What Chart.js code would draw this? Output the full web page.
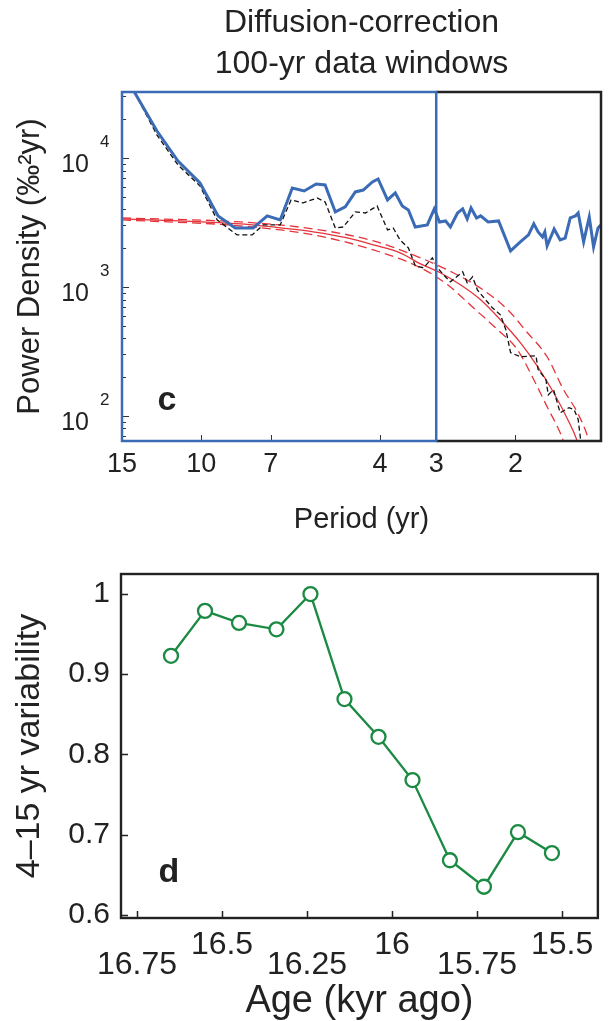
<!DOCTYPE html>
<html>
<head>
<meta charset="utf-8">
<title>Diffusion-correction, 100-yr data windows</title>
<script src="https://cdn.jsdelivr.net/npm/chart.js@4.4.1/dist/chart.umd.min.js"></script>
<style>
  body { margin: 0; background: #fff; }
  .panel { position: absolute; left: 0; }
  #panel-c { top: 0; }
  #panel-d { top: 545px; }
</style>
</head>
<body>
<canvas id="panel-c" class="panel" width="611" height="545"></canvas>
<canvas id="panel-d" class="panel" width="611" height="476"></canvas>
<script>
// panel c - spectra, period (yr) against power density
const correctedPeriod = [15.0, 14.03, 12.54, 11.26, 10.06, 9.17, 8.40, 7.66, 7.13, 6.67, 6.27, 5.90, 5.55, 5.30, 5.03, 4.78, 4.54, 4.36, 4.16, 4.04, 3.85, 3.70, 3.57, 3.46, 3.34, 3.14, 3.03, 2.95, 2.86, 2.79, 2.69, 2.62, 2.56, 2.51, 2.44, 2.39, 2.30, 2.18, 2.05, 1.95, 1.87, 1.82, 1.78, 1.74, 1.72, 1.70, 1.64, 1.59, 1.55, 1.51, 1.47, 1.45, 1.41, 1.37, 1.34, 1.31, 1.29];
const correctedPower = [47100, 31800, 16200, 9480, 6410, 3560, 2870, 2870, 3560, 3310, 5860, 5555, 6290, 6180, 3820, 4180, 5460, 5650, 6520, 6880, 4730, 5360, 4250, 3960, 2920, 3030, 4030, 3195, 3255, 2920, 3750, 4030, 3370, 4100, 3430, 3560, 3195, 3255, 1905, 2240, 2535, 3085, 2675, 2446, 2675, 2085, 2820, 2315, 2395, 3430, 3560, 3750, 2240, 3495, 2047, 2870, 3030];

const rawPeriod = [15.0, 14.03, 12.54, 11.26, 10.06, 9.21, 8.32, 7.70, 7.28, 6.67, 6.31, 5.93, 5.52, 5.30, 5.03, 4.83, 4.54, 4.31, 4.06, 3.85, 3.74, 3.61, 3.46, 3.34, 3.20, 3.06, 2.98, 2.89, 2.79, 2.62, 2.56, 2.49, 2.43, 2.33, 2.25, 2.16, 2.10, 2.05, 1.95, 1.80, 1.78, 1.71, 1.69, 1.645, 1.59, 1.52, 1.48, 1.45, 1.43, 1.42];
const rawPower = [47100, 31800, 15070, 8830, 6070, 3310, 2535, 2535, 3030, 3030, 4730, 4490, 4900, 4565, 2870, 2920, 3820, 3750, 4250, 2770, 2870, 2315, 2010, 1460, 1408, 1683, 1408, 1243, 1097, 1311, 1078, 1199, 951, 796, 690, 609, 466, 310, 288, 293, 229, 191, 146, 160, 106, 116, 112, 94, 63, 38];

const fitPeriod = [15, 11.14, 8.19, 6.34, 5.63, 4.73, 4.14, 3.61, 3.25, 2.94, 2.65, 2.39, 2.16, 1.95, 1.785, 1.645, 1.53, 1.455, 1.40];
const fitPower = [3370, 3255, 3085, 2820, 2675, 2400, 2120, 1840, 1510, 1290, 1040, 796, 557, 370, 241, 152, 94, 63, 38];
const fitHighPeriod = [15, 8.19, 5.63, 4.14, 3.25, 2.75, 2.36, 2.08, 1.88, 1.70, 1.563, 1.455, 1.37, 1.326];
const fitHighPower = [3430, 3195, 2820, 2280, 1680, 1290, 950, 666, 442, 288, 160, 106, 63, 38];
const fitLowPeriod = [15, 8.19, 5.63, 4.14, 3.25, 2.83, 2.48, 2.19, 1.98, 1.82, 1.70, 1.59, 1.563, 1.52];
const fitLowPower = [3310, 2980, 2535, 1940, 1410, 1040, 690, 466, 327, 191, 118, 74, 63, 38];

const periodTicks = [15, 10, 7, 4, 3, 2];
const powerTicks = [100, 1000, 10000];
const windowEdge = 3; // right side of the blue box, yr

// panel d - 4-15 yr variability per 100-yr window
const windowAge = [16.65, 16.55, 16.45, 16.34, 16.24, 16.14, 16.04, 15.94, 15.83, 15.73, 15.63, 15.53];
const variability = [0.923, 0.979, 0.964, 0.956, 1.000, 0.869, 0.822, 0.768, 0.668, 0.635, 0.703, 0.677];
const ageTicks = [16.75, 16.5, 16.25, 16, 15.75, 15.5];
const ageTicksLow = [16.75, 16.25, 15.75];
const variabilityTicks = [0.6, 0.7, 0.8, 0.9, 1];

const BLUE = '#3b6bb5';
const RED = '#e4343b';
const GREEN = '#1b8a43';
const INK = '#222';
const FONT = "'Liberation Sans', Arial, Helvetica, sans-serif";

Chart.defaults.font.family = FONT;
Chart.defaults.color = INK;

function toPoints(xs, ys) {
    return xs.map(function (x, i) { return { x: x, y: ys[i] }; });
}

// frame, inward ticks, 10^n labels and the panel letter
const spectrumDecor = {
    id: 'spectrumDecor',
    afterDatasetsDraw(chart) {
        const ctx = chart.ctx;
        const a = chart.chartArea;
        const x = chart.scales.x;
        const y = chart.scales.y;
        const split = x.getPixelForValue(windowEdge);
        ctx.save();

        ctx.strokeStyle = '#333';
        ctx.lineWidth = 1;
        ctx.beginPath();
        for (let e = 1; e <= 4; e++) {
            for (let m = 1; m <= 9; m++) {
                const v = m * Math.pow(10, e);
                if (v < y.min || v > y.max) continue;
                const py = Math.round(y.getPixelForValue(v)) + 0.5;
                ctx.moveTo(a.left, py);
                ctx.lineTo(a.left + (m === 1 ? 7 : 4), py);
            }
        }
        periodTicks.forEach(function (p) {
            const px = Math.round(x.getPixelForValue(p)) + 0.5;
            ctx.moveTo(px, a.bottom);
            ctx.lineTo(px, a.bottom - 6);
        });
        ctx.stroke();

        ctx.lineWidth = 2.5;
        ctx.strokeStyle = INK;
        ctx.beginPath();
        ctx.moveTo(split, a.top);
        ctx.lineTo(a.right, a.top);
        ctx.lineTo(a.right, a.bottom);
        ctx.lineTo(split, a.bottom);
        ctx.stroke();
        ctx.strokeStyle = BLUE;
        ctx.strokeRect(a.left, a.top, split - a.left, a.bottom - a.top);

        ctx.fillStyle = INK;
        ctx.textBaseline = 'alphabetic';
        powerTicks.forEach(function (v) {
            const py = y.getPixelForValue(v);
            ctx.font = '25px ' + FONT;
            ctx.textAlign = 'right';
            ctx.fillText('10', a.left - 33, py + 14);
            ctx.font = '17px ' + FONT;
            ctx.textAlign = 'left';
            ctx.fillText(String(Math.round(Math.log10(v))), a.left - 22, py - 11);
        });

        ctx.font = 'bold 34px ' + FONT;
        ctx.textAlign = 'center';
        ctx.fillText('c', 167, 410);
        ctx.restore();
    }
};

const variabilityDecor = {
    id: 'variabilityDecor',
    afterDatasetsDraw(chart) {
        const ctx = chart.ctx;
        const a = chart.chartArea;
        const x = chart.scales.x;
        const y = chart.scales.y;
        ctx.save();
        ctx.strokeStyle = INK;
        ctx.lineWidth = 1.5;
        ctx.beginPath();
        variabilityTicks.forEach(function (v) {
            const py = Math.round(y.getPixelForValue(v)) + 0.5;
            ctx.moveTo(a.left, py);
            ctx.lineTo(a.left + 7, py);
        });
        ageTicks.forEach(function (v) {
            const px = Math.round(x.getPixelForValue(v)) + 0.5;
            ctx.moveTo(px, a.bottom);
            ctx.lineTo(px, a.bottom - 7);
        });
        ctx.stroke();
        ctx.lineWidth = 2.4;
        ctx.strokeRect(a.left, a.top, a.right - a.left, a.bottom - a.top);

        ctx.fillStyle = INK;
        ctx.font = 'bold 34px ' + FONT;
        ctx.textAlign = 'center';
        ctx.textBaseline = 'alphabetic';
        ctx.fillText('d', 169, 337);
        ctx.restore();
    }
};

new Chart(document.getElementById('panel-c').getContext('2d'), {
    type: 'line',
    data: {
        datasets: [
            {
                data: toPoints(correctedPeriod, correctedPower),
                borderColor: BLUE,
                borderWidth: 3,
                pointRadius: 0
            },
            {
                data: toPoints(rawPeriod, rawPower),
                borderColor: '#111',
                borderWidth: 1.3,
                borderDash: [5, 3],
                pointRadius: 0
            },
            {
                data: toPoints(fitPeriod, fitPower),
                borderColor: RED,
                borderWidth: 1.3,
                pointRadius: 0,
                cubicInterpolationMode: 'monotone'
            },
            {
                data: toPoints(fitHighPeriod, fitHighPower),
                borderColor: RED,
                borderWidth: 1.3,
                borderDash: [9, 5],
                pointRadius: 0,
                cubicInterpolationMode: 'monotone'
            },
            {
                data: toPoints(fitLowPeriod, fitLowPower),
                borderColor: RED,
                borderWidth: 1.3,
                borderDash: [9, 5],
                pointRadius: 0,
                cubicInterpolationMode: 'monotone'
            }
        ]
    },
    options: {
        responsive: false,
        animation: false,
        layout: { padding: { left: 0, right: 10, top: 0, bottom: 0 } },
        plugins: {
            legend: { display: false },
            tooltip: { enabled: false },
            title: {
                display: true,
                fullSize: false,
                text: ['Diffusion-correction', '100-yr data windows'],
                color: INK,
                font: { size: 32, weight: 'normal', lineHeight: 1.3 },
                padding: { top: 2, bottom: 6.8 }
            }
        },
        scales: {
            x: {
                type: 'logarithmic',
                reverse: true,
                min: 1.29,
                max: 15,
                afterBuildTicks: function (s) { s.ticks = periodTicks.map(function (v) { return { value: v }; }); },
                afterFit: function (s) { s.height = 104; },
                ticks: {
                    autoSkip: false,
                    maxRotation: 0,
                    padding: 7,
                    font: { size: 27 },
                    callback: function (v) { return String(v); }
                },
                grid: { display: false, drawTicks: false },
                border: { display: false },
                title: { display: true, text: 'Period (yr)', font: { size: 29 }, padding: { top: 0, bottom: 8 } }
            },
            y: {
                type: 'logarithmic',
                min: 64,
                max: 32500,
                afterBuildTicks: function (s) { s.ticks = powerTicks.map(function (v) { return { value: v }; }); },
                afterFit: function (s) { s.width = 122; },
                ticks: { display: false },
                grid: { display: false, drawTicks: false },
                border: { display: false },
                title: { display: true, text: 'Power Density (‰²yr)', font: { size: 31 }, padding: { top: 12, bottom: 0 } }
            }
        }
    },
    plugins: [spectrumDecor]
});

new Chart(document.getElementById('panel-d').getContext('2d'), {
    type: 'line',
    data: {
        datasets: [{
            data: toPoints(windowAge, variability),
            borderColor: GREEN,
            borderWidth: 2.3,
            pointRadius: 7,
            pointBorderWidth: 2.3,
            pointBorderColor: GREEN,
            pointBackgroundColor: '#fff'
        }]
    },
    options: {
        responsive: false,
        animation: false,
        layout: { padding: { left: 0, right: 9, top: 26, bottom: 0 } },
        plugins: {
            legend: { display: false },
            tooltip: { enabled: false }
        },
        scales: {
            x: {
                type: 'linear',
                reverse: true,
                min: 15.395,
                max: 16.797,
                afterBuildTicks: function (s) { s.ticks = ageTicks.map(function (v) { return { value: v }; }); },
                afterFit: function (s) { s.height = 103; },
                ticks: {
                    autoSkip: false,
                    maxRotation: 0,
                    padding: 17,
                    font: { size: 32, lineHeight: 0.625 },
                    callback: function (v) { return ageTicksLow.includes(v) ? ['', String(v)] : String(v); }
                },
                grid: { display: false, drawTicks: false },
                border: { display: false },
                title: { display: true, text: 'Age (kyr ago)', font: { size: 38, lineHeight: 1 }, padding: { top: 0, bottom: 0 } }
            },
            y: {
                min: 0.596,
                max: 1.025,
                afterBuildTicks: function (s) { s.ticks = variabilityTicks.map(function (v) { return { value: v }; }); },
                afterFit: function (s) { s.width = 121; },
                ticks: {
                    padding: 11,
                    font: { size: 30 },
                    callback: function (v) { return String(v); }
                },
                grid: { display: false, drawTicks: false },
                border: { display: false },
                title: { display: true, text: '4–15 yr variability', font: { size: 34 }, padding: { top: 9, bottom: 0 } }
            }
        }
    },
    plugins: [variabilityDecor]
});
</script>
</body>
</html>
